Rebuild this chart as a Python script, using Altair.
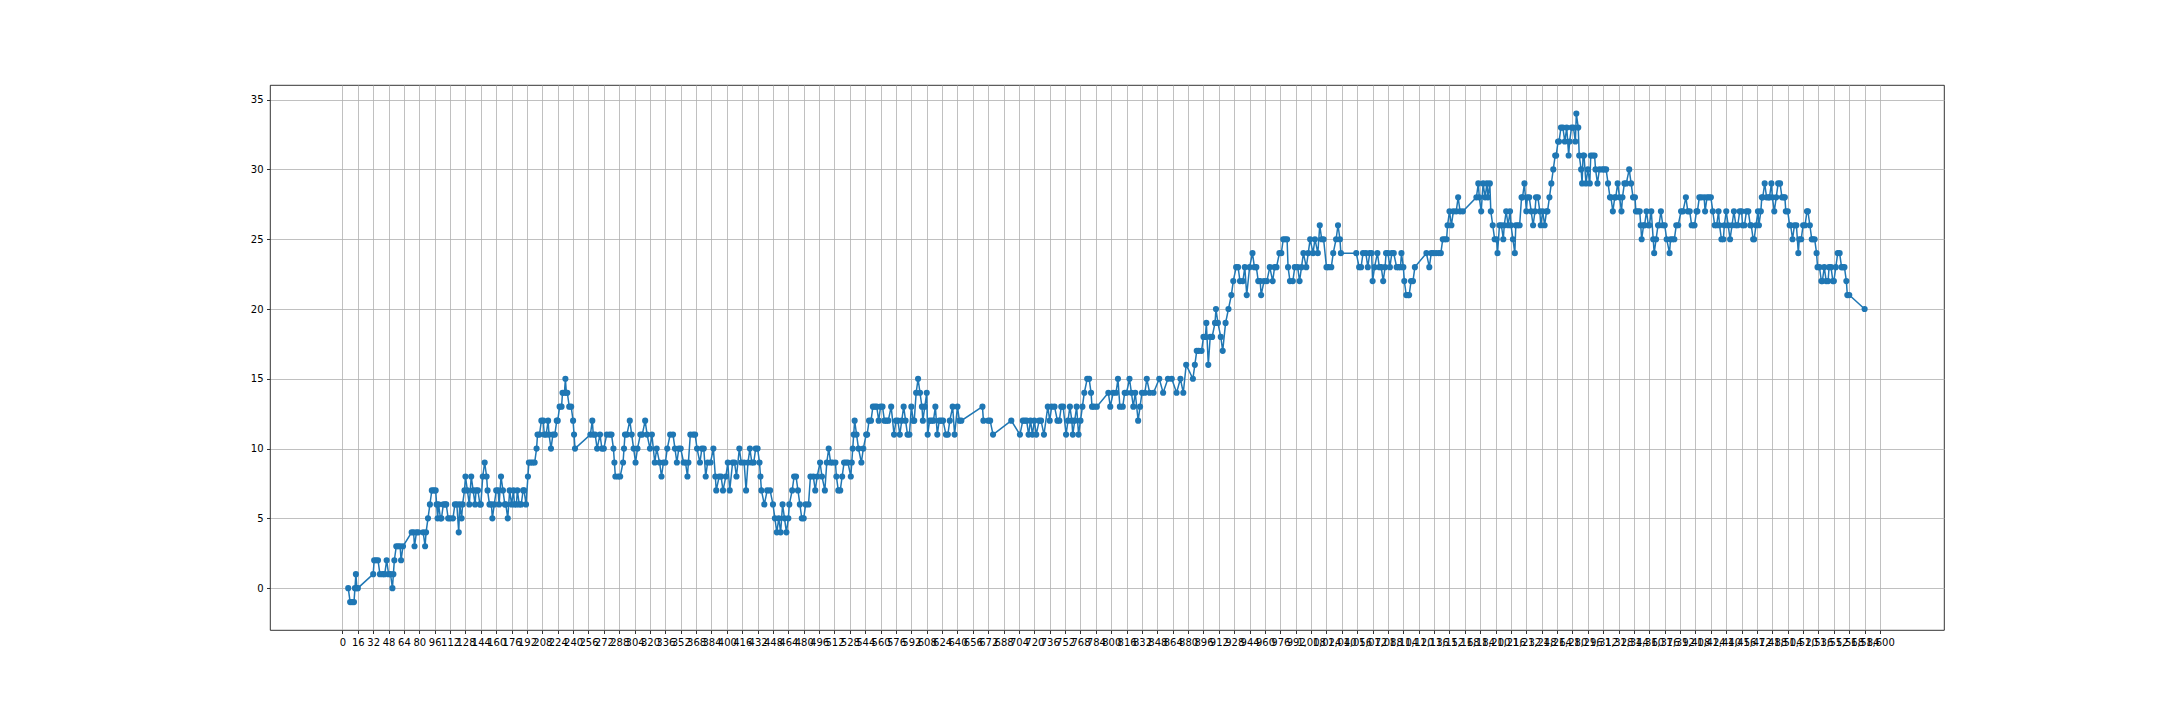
import pandas as pd
import altair as alt

# walk, split in chunks of roughly 256 steps
seg_a = [(6, 0), (8, -1), (10, -1), (12, -1), (13, 0), (14, 1), (15, 0), (16, 0), (32, 1), (33, 2), (35, 2),
         (37, 2), (39, 1), (42, 1), (44, 1), (46, 2), (48, 1), (50, 1), (52, 0), (53, 1), (54, 2), (56, 3),
         (58, 3), (60, 3), (61, 2), (63, 3), (72, 4), (74, 4), (75, 3), (77, 4), (79, 4), (84, 4), (86, 3),
         (87, 4), (89, 5), (91, 6), (93, 7), (95, 7), (97, 7), (98, 6), (99, 5), (100, 6), (102, 5), (103, 5),
         (105, 6), (107, 6), (108, 6), (110, 5), (112, 5), (115, 5), (117, 6), (119, 6), (121, 4), (122, 6),
         (124, 5), (125, 6), (127, 7), (128, 8), (130, 7), (132, 6), (134, 8), (136, 7), (138, 6), (139, 7),
         (141, 7), (143, 6), (144, 6), (146, 8), (148, 9), (150, 8), (151, 7), (153, 6), (155, 6), (156, 5),
         (158, 6), (160, 7), (162, 7), (163, 6), (165, 8), (167, 7), (169, 6), (170, 6), (172, 5), (174, 7),
         (176, 6), (178, 7), (179, 6), (181, 6), (182, 7), (184, 6), (186, 6), (188, 7), (189, 7), (191, 6),
         (193, 8), (194, 9), (196, 9), (198, 9), (200, 9), (202, 10), (203, 11), (205, 11), (207, 12),
         (209, 12), (210, 11), (212, 11), (214, 12), (215, 11), (217, 10), (219, 11), (221, 11), (223, 12),
         (224, 12), (226, 13), (228, 13), (229, 14), (231, 14), (232, 15), (233, 14), (234, 14), (236, 13),
         (238, 13), (240, 12), (241, 11), (242, 10)]

seg_b = [(258, 11), (260, 12), (261, 11), (263, 11), (265, 10), (268, 11), (270, 10), (272, 10), (275, 11),
         (278, 11), (280, 11), (282, 10), (283, 9), (284, 8), (287, 8), (289, 8), (292, 9), (293, 10),
         (294, 11), (296, 11), (299, 12), (301, 11), (303, 10), (305, 9), (307, 10), (310, 11), (312, 11),
         (315, 12), (317, 11), (320, 10), (322, 11), (325, 9), (327, 10), (330, 9), (332, 8), (334, 9),
         (336, 9), (338, 10), (341, 11), (344, 11), (346, 10), (348, 9), (350, 10), (352, 10), (355, 9),
         (357, 9), (359, 8), (360, 9), (362, 11), (365, 11), (367, 11), (369, 10), (372, 9), (374, 10),
         (376, 10), (378, 8), (380, 9), (383, 9), (386, 10), (388, 8), (389, 7), (392, 8), (394, 8), (396, 7),
         (399, 8), (401, 9), (403, 7), (406, 9), (408, 9), (410, 8), (413, 10), (415, 9), (418, 9), (420, 7),
         (422, 9), (424, 10), (426, 9), (428, 9), (430, 10), (432, 10), (434, 9), (435, 8), (436, 7), (439, 6),
         (442, 7), (445, 7), (448, 6), (450, 5), (452, 4), (454, 5), (456, 4), (458, 6), (460, 5), (462, 4),
         (464, 5), (465, 6), (468, 7), (470, 8), (472, 8), (474, 7), (476, 6), (478, 5), (480, 5), (482, 6),
         (485, 6), (487, 8), (490, 8), (492, 7), (494, 8), (497, 9), (499, 8), (502, 7), (504, 9), (506, 10),
         (508, 9), (510, 9), (513, 9), (514, 8), (516, 7)]

seg_c = [(518, 7), (520, 8), (522, 9), (524, 9), (526, 9), (529, 8), (530, 9), (531, 10), (532, 11),
         (533, 12), (535, 11), (537, 10), (540, 9), (542, 10), (545, 11), (546, 11), (548, 12), (550, 12),
         (552, 13), (554, 13), (556, 13), (558, 12), (560, 13), (562, 13), (564, 12), (566, 12), (568, 12),
         (571, 13), (574, 11), (576, 12), (578, 12), (580, 11), (582, 12), (584, 13), (586, 12), (588, 11),
         (590, 11), (592, 13), (594, 12), (595, 12), (597, 14), (599, 15), (601, 14), (603, 13), (604, 12),
         (606, 13), (608, 14), (609, 11), (611, 12), (613, 12), (615, 12), (617, 13), (619, 11), (621, 12),
         (623, 12), (625, 12), (628, 11), (630, 11), (632, 12), (635, 13), (637, 11), (640, 13), (642, 12),
         (644, 12), (666, 13), (667, 12), (672, 12), (674, 12), (677, 11), (696, 12), (705, 11), (708, 12),
         (710, 12), (712, 12), (714, 11), (716, 12), (718, 11), (720, 12), (722, 11), (725, 12), (727, 12),
         (730, 11), (734, 13), (736, 12), (738, 13), (741, 13), (744, 12), (746, 12), (748, 13), (750, 13),
         (753, 11), (755, 12), (757, 13), (759, 12), (760, 11), (762, 12), (764, 13), (766, 11), (768, 12),
         (770, 13), (772, 14), (775, 15)]

seg_d = [(777, 15), (779, 14), (780, 13), (782, 13), (785, 13), (797, 14), (799, 13), (802, 14), (805, 14),
         (807, 15), (809, 13), (812, 13), (814, 14), (816, 14), (819, 15), (821, 14), (823, 13), (825, 14),
         (828, 12), (830, 13), (832, 14), (835, 14), (837, 15), (840, 14), (844, 14), (850, 15), (854, 14),
         (859, 15), (863, 15), (868, 14), (872, 15), (875, 14), (878, 16), (885, 15), (887, 16), (889, 17),
         (891, 17), (894, 17), (896, 18), (898, 18), (899, 19), (901, 16), (903, 18), (905, 18), (908, 19),
         (909, 20), (911, 19), (914, 18), (916, 17), (919, 19), (922, 20), (925, 21), (927, 22), (930, 23),
         (932, 23), (934, 22), (937, 22), (939, 23), (941, 21), (944, 23), (947, 24), (949, 23), (951, 23),
         (953, 22), (955, 22), (956, 21), (959, 22), (962, 22), (965, 23), (968, 22), (970, 23), (972, 23),
         (975, 24), (977, 24), (979, 25), (981, 25), (983, 25), (984, 23), (986, 22), (989, 22), (991, 23),
         (994, 23), (996, 22), (998, 23), (1000, 24), (1003, 23), (1005, 24), (1007, 25), (1010, 24),
         (1012, 25), (1015, 24), (1017, 26), (1019, 25), (1021, 25), (1024, 23), (1026, 23), (1029, 23),
         (1031, 24), (1034, 25), (1036, 26), (1038, 25), (1039, 24)]

seg_e = [(1055, 24), (1058, 23), (1060, 23), (1062, 24), (1065, 24), (1067, 23), (1069, 24), (1071, 24),
         (1072, 22), (1074, 23), (1077, 24), (1079, 23), (1081, 23), (1083, 22), (1085, 23), (1086, 24),
         (1088, 24), (1090, 23), (1092, 24), (1094, 24), (1097, 23), (1099, 23), (1101, 23), (1102, 24),
         (1104, 23), (1105, 22), (1107, 21), (1109, 21), (1110, 21), (1112, 22), (1114, 22), (1116, 23),
         (1128, 24), (1131, 23), (1133, 24), (1135, 24), (1138, 24), (1141, 24), (1143, 24), (1145, 25),
         (1147, 25), (1149, 25), (1150, 26), (1152, 27), (1154, 26), (1156, 27), (1159, 27), (1161, 28),
         (1163, 27), (1166, 27), (1180, 28), (1182, 29), (1183, 28), (1185, 27), (1187, 29), (1189, 28),
         (1191, 29), (1192, 28), (1194, 29), (1195, 27), (1197, 26), (1199, 25), (1201, 25), (1202, 24),
         (1204, 26), (1206, 26), (1208, 25), (1209, 26), (1211, 27), (1213, 26), (1215, 27), (1216, 26),
         (1218, 25), (1220, 24), (1221, 26), (1223, 26), (1225, 26), (1227, 28), (1228, 28), (1230, 29),
         (1232, 27), (1233, 28), (1235, 28), (1237, 27), (1239, 26), (1241, 27), (1242, 28), (1244, 28),
         (1246, 27), (1247, 26), (1249, 27), (1251, 26), (1253, 27), (1254, 27), (1256, 28), (1258, 29),
         (1260, 30), (1262, 31), (1263, 31), (1265, 32), (1266, 32), (1268, 33), (1270, 33), (1272, 32),
         (1274, 33), (1276, 31), (1277, 32), (1279, 33), (1281, 33), (1283, 32), (1284, 34), (1286, 33),
         (1287, 31), (1289, 30), (1290, 29), (1291, 31)]

seg_f = [(1292, 31), (1294, 29), (1296, 30), (1298, 29), (1299, 31), (1301, 31), (1303, 31), (1304, 30),
         (1306, 29), (1308, 30), (1311, 30), (1313, 30), (1315, 30), (1317, 29), (1319, 28), (1320, 28),
         (1322, 27), (1324, 28), (1325, 28), (1327, 29), (1329, 28), (1331, 27), (1332, 28), (1334, 29),
         (1336, 29), (1339, 30), (1341, 29), (1343, 28), (1345, 28), (1346, 27), (1348, 27), (1350, 27),
         (1351, 26), (1352, 25), (1354, 26), (1355, 26), (1357, 27), (1359, 26), (1360, 26), (1362, 27),
         (1364, 25), (1365, 24), (1367, 25), (1369, 26), (1370, 26), (1372, 27), (1374, 26), (1376, 26),
         (1378, 25), (1381, 24), (1382, 25), (1384, 25), (1386, 25), (1388, 26), (1390, 26), (1393, 27),
         (1395, 27), (1398, 28), (1400, 27), (1402, 27), (1404, 26), (1406, 26), (1407, 26), (1409, 27),
         (1410, 27), (1412, 28), (1414, 28), (1417, 28), (1418, 27), (1420, 28), (1422, 28), (1424, 28),
         (1426, 27), (1428, 26), (1430, 26), (1432, 27), (1433, 26), (1435, 25), (1437, 25), (1438, 26),
         (1440, 27), (1442, 26), (1444, 25), (1446, 26), (1448, 27), (1450, 26), (1452, 26), (1454, 27),
         (1456, 27), (1457, 26), (1459, 26), (1461, 27), (1463, 27), (1465, 26), (1466, 26), (1468, 25),
         (1469, 25), (1471, 26), (1473, 27), (1474, 26), (1476, 27), (1477, 28), (1478, 28), (1480, 29),
         (1482, 28), (1484, 28), (1485, 28), (1487, 29), (1488, 28), (1490, 27), (1492, 28), (1494, 29),
         (1496, 29), (1498, 28), (1500, 28), (1501, 28), (1502, 27), (1504, 27), (1506, 26), (1507, 26),
         (1509, 25), (1511, 26), (1513, 26), (1515, 24), (1516, 25), (1518, 25), (1520, 26), (1522, 26),
         (1524, 27), (1525, 27), (1527, 26), (1529, 25), (1530, 25), (1532, 25), (1534, 24), (1535, 23),
         (1537, 23), (1539, 22), (1540, 22), (1542, 23), (1544, 22), (1546, 22), (1547, 23), (1549, 23),
         (1551, 22), (1552, 22), (1554, 23), (1556, 24), (1558, 24), (1560, 23), (1561, 23), (1563, 23),
         (1565, 22), (1566, 21), (1568, 21), (1584, 20)]

x_ticks = list(range(0, 1601, 16))
y_ticks = [0, 5, 10, 15, 20, 25, 30, 35]

points = seg_a + seg_b + seg_c + seg_d + seg_e + seg_f
df = pd.DataFrame(points, columns=['x', 'y'])
df['i'] = range(len(df))

blue = '#1f77b4'

base = alt.Chart(df).encode(
    x=alt.X('x:Q', title='',
            scale=alt.Scale(domain=[-75.4, 1666.6], nice=False, zero=False),
            axis=alt.Axis(values=x_ticks, labelAngle=0)),
    y=alt.Y('y:Q', title='',
            scale=alt.Scale(domain=[-3.0, 36.05], nice=False, zero=False),
            axis=alt.Axis(values=y_ticks)),
    order=alt.Order('i:Q')
)

line = base.mark_line(color=blue, strokeWidth=1.5)
dots = base.mark_circle(color=blue, size=38, opacity=1)

chart = alt.layer(line, dots).properties(
    width=1674,
    height=545,
    autosize=alt.AutoSizeParams(type='none'),
    padding={'left': 262, 'top': 77, 'right': 200, 'bottom': 80}
).configure_view(
    stroke='black',
    strokeWidth=0.8
).configure_axis(
    grid=True,
    gridColor='#b0b0b0',
    gridWidth=0.8,
    domain=False,
    tickColor='black',
    tickWidth=0.8,
    tickSize=3.5,
    labelFont='DejaVu Sans',
    labelFontSize=10,
    labelColor='black',
    labelPadding=3.5,
    labelOverlap=False,
    labelFlush=False
)

chart.save('out.html', embed_options={'renderer': 'svg', 'actions': False})
